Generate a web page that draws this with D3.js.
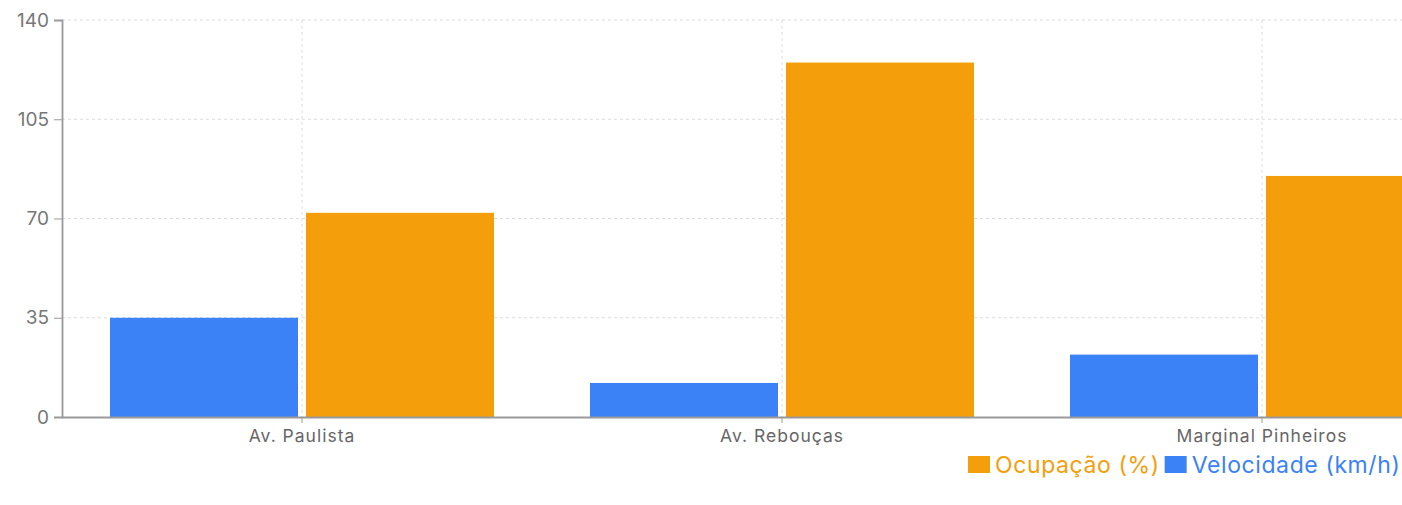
<!DOCTYPE html>
<html><head><meta charset="utf-8">
<script src="https://cdn.jsdelivr.net/npm/d3@7"></script>
<style>
html,body{margin:0;padding:0;background:#fff;overflow:hidden;}
svg{display:block;font-family:Inter, "Noto Sans", sans-serif;}
</style></head>
<body><svg id="c" width="1402" height="505"></svg>
<script>
const categories = ["Av. Paulista", "Av. Rebouças", "Marginal Pinheiros"];
const velocidade = [35, 12, 22];
const ocupacao = [72, 125, 85];
const yTicks = [0, 35, 70, 105, 140];
const seriesNames = ["Velocidade (km/h)", "Ocupação (%)"];
const seriesColors = ["#3b82f6", "#f59e0b"];

(function () {
const FONT = "Inter, 'Noto Sans', sans-serif";
const svg = d3.select("#c");
const mLeft = 62, mRight = 1502, mTop = 20, mBottom = 417;

const x = d3.scaleBand().domain(categories).range([mLeft, mRight]).paddingInner(0).paddingOuter(0);
const y = d3.scaleLinear().domain([0, 140]).range([mBottom, mTop]);

// grid
const grid = svg.append("g");
grid.selectAll("line.h").data(yTicks.filter(d => d > 0)).join("line")
  .attr("x1", mLeft).attr("x2", mRight)
  .attr("y1", d => y(d)).attr("y2", d => y(d))
  .attr("stroke", "#dcdcdc").attr("stroke-dasharray", "3 3");
grid.selectAll("line.v").data(categories).join("line")
  .attr("x1", d => x(d) + x.bandwidth() / 2).attr("x2", d => x(d) + x.bandwidth() / 2)
  .attr("y1", mTop).attr("y2", mBottom)
  .attr("stroke", "#dcdcdc").attr("stroke-dasharray", "3 3");

// bars
const catGap = x.bandwidth() * 0.1;
const barGap = 8;
const inner = x.bandwidth() - 2 * catGap;
const barW = (inner - barGap) / 2;
const series = [velocidade, ocupacao];
series.forEach((vals, si) => {
  svg.append("g").selectAll("rect").data(categories).join("rect")
    .attr("x", (d) => x(d) + catGap + si * (barW + barGap))
    .attr("width", barW)
    .attr("y", (d, i) => y(vals[i]))
    .attr("height", (d, i) => y(0) - y(vals[i]))
    .attr("fill", seriesColors[si]);
});

// axes
const yAxis = d3.axisLeft(y).tickValues(yTicks).tickSize(8).tickPadding(5);
const gy = svg.append("g").attr("transform", `translate(${mLeft},0)`).call(yAxis)
  .attr("font-family", FONT);
gy.select(".domain").attr("stroke", "#999").attr("stroke-width", 1.8);
gy.selectAll(".tick line").attr("stroke", "#999");
gy.selectAll(".tick text").attr("fill", "#777").attr("font-size", 19);

const xAxis = d3.axisBottom(x).tickSize(6).tickPadding(7).tickSizeOuter(0);
const gx = svg.append("g").attr("transform", `translate(0,${mBottom})`).call(xAxis)
  .attr("font-family", FONT);
gx.select(".domain").attr("stroke", "#999").attr("stroke-width", 1.8);
gx.selectAll(".tick line").attr("stroke", "#999");
gx.selectAll(".tick text").attr("fill", "#666").attr("font-size", 17.5).attr("letter-spacing", "1px");

// legend
const legendItems = [
  {name: seriesNames[1], color: seriesColors[1]},
  {name: seriesNames[0], color: seriesColors[0]}
];
const lg = svg.append("g").attr("transform", "translate(968,465)").attr("font-family", FONT);
let lx = 0;
legendItems.forEach(it => {
  const g = lg.append("g").attr("transform", `translate(${lx},0)`);
  g.append("rect").attr("x", 0).attr("y", -9).attr("width", 22).attr("height", 17).attr("fill", it.color);
  const t = g.append("text").attr("x", 27).attr("y", 0).attr("dy", "0.36em")
    .attr("font-size", 23).attr("letter-spacing", "0.6px").attr("fill", it.color).text(it.name);
  lx += 27 + t.node().getComputedTextLength() + 5;
});
})();
</script></body></html>
